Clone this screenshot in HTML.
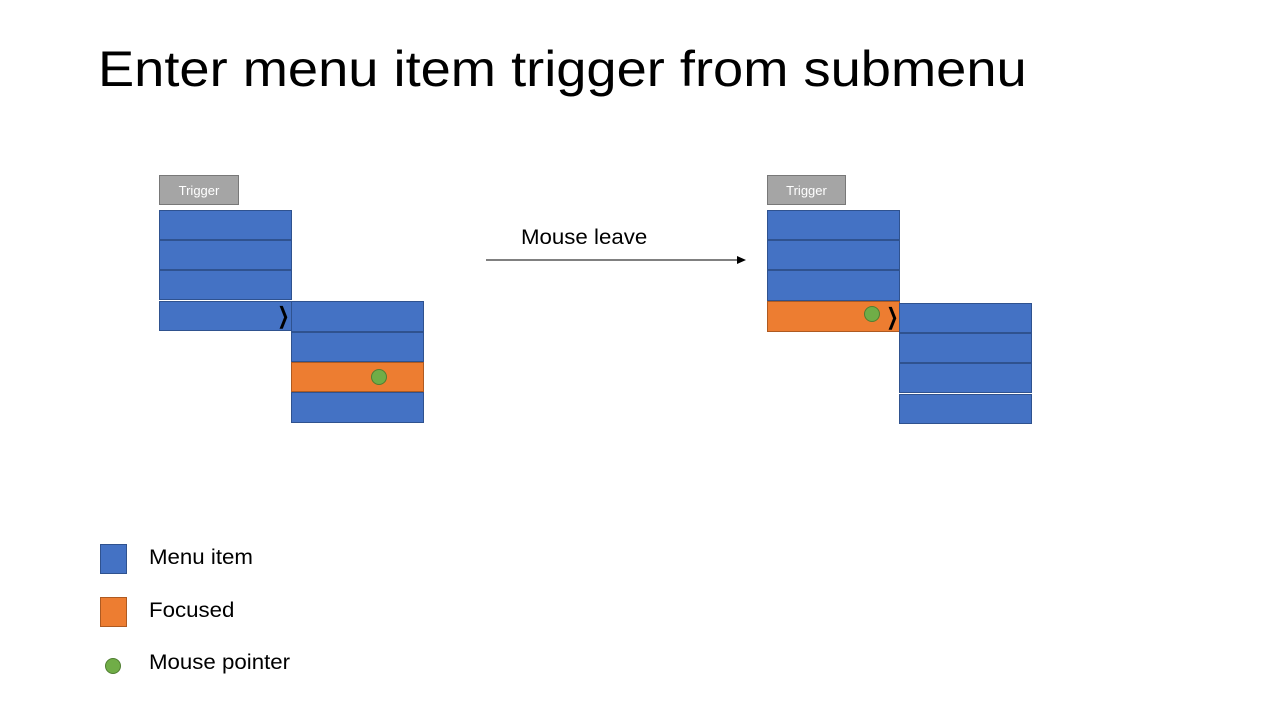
<!DOCTYPE html>
<html><head><meta charset="utf-8"><style>
body{margin:0;width:1280px;height:720px;background:#fff;position:relative;overflow:hidden;font-family:"Liberation Sans",sans-serif}
.a{position:absolute;box-sizing:border-box}
.m{background:#4472c4;border:1px solid #2f528f}
.f{background:#ed7d31;border:1px solid #ae5a21}
.t{background:#a5a5a5;border:1px solid #787878;color:#fff;font-size:13px;text-align:center;line-height:29px}
.d{width:16px;height:16px;border-radius:50%;background:#70ad47;border:1px solid #507e32}
.c{font-size:22px;font-weight:bold;color:#000;line-height:28px;transform:scaleX(0.8);transform-origin:left top}
.l{font-size:21px;color:#000;white-space:nowrap;transform:scaleX(1.06);transform-origin:left top}
</style></head><body>
<div class="a" style="left:98px;top:40px;font-size:50px;color:#000;white-space:nowrap;transform:scaleX(1.085);transform-origin:left top">Enter menu item trigger from submenu</div>

<div class="a t" style="left:159px;top:175px;width:80px;height:30px">Trigger</div>
<div class="a m" style="left:159px;top:210px;width:133px;height:30px"></div>
<div class="a m" style="left:159px;top:240px;width:133px;height:30px"></div>
<div class="a m" style="left:159px;top:270px;width:133px;height:30px"></div>
<div class="a m" style="left:159px;top:301px;width:133px;height:30px"></div>
<div class="a c" style="left:276px;top:302px">&#x276D;</div>
<div class="a m" style="left:291px;top:301px;width:133px;height:31px"></div>
<div class="a m" style="left:291px;top:332px;width:133px;height:30px"></div>
<div class="a f" style="left:291px;top:362px;width:133px;height:30px"></div>
<div class="a m" style="left:291px;top:392px;width:133px;height:31px"></div>
<div class="a d" style="left:371px;top:369px"></div>

<div class="a l" style="left:521px;top:226px">Mouse leave</div>
<svg class="a" style="left:486px;top:254px" width="262" height="12"><line x1="0" y1="6" x2="252" y2="6" stroke="#000" stroke-width="1"/><polygon points="260,6 251,2 251,10" fill="#000"/></svg>

<div class="a t" style="left:767px;top:175px;width:79px;height:30px">Trigger</div>
<div class="a m" style="left:767px;top:210px;width:133px;height:30px"></div>
<div class="a m" style="left:767px;top:240px;width:133px;height:30px"></div>
<div class="a m" style="left:767px;top:270px;width:133px;height:31px"></div>
<div class="a f" style="left:767px;top:301px;width:133px;height:31px"></div>
<div class="a d" style="left:864px;top:306px"></div>
<div class="a c" style="left:885px;top:303px">&#x276D;</div>
<div class="a m" style="left:899px;top:303px;width:133px;height:30px"></div>
<div class="a m" style="left:899px;top:333px;width:133px;height:30px"></div>
<div class="a m" style="left:899px;top:363px;width:133px;height:30px"></div>
<div class="a m" style="left:899px;top:394px;width:133px;height:30px"></div>

<div class="a m" style="left:100px;top:544px;width:27px;height:30px"></div>
<div class="a l" style="left:149px;top:546px">Menu item</div>
<div class="a f" style="left:100px;top:597px;width:27px;height:30px"></div>
<div class="a l" style="left:149px;top:599px">Focused</div>
<div class="a d" style="left:105px;top:658px"></div>
<div class="a l" style="left:149px;top:651px">Mouse pointer</div>
</body></html>
